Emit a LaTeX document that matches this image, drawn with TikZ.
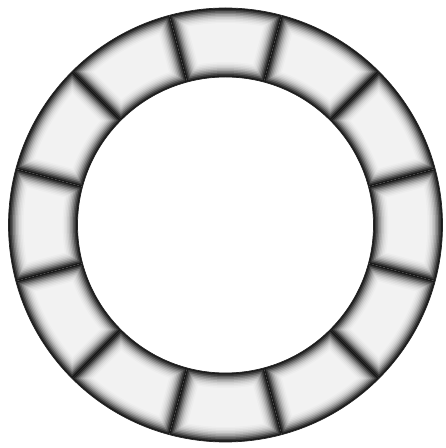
\documentclass[tikz,border=0pt]{standalone}
\usepackage{tikz}

\begin{document}
\begin{tikzpicture}[scale=0.025,
  rim/.style={draw=black!85,line width=0.5pt}]
\useasboundingbox (0,0) rectangle (445,448);
\begin{scope}[shift={(225.5,223)}]
% twelve blocks, shaded from the edges inwards
\foreach \k in {0,...,11}{
  \foreach \d/\g in {0/90,1.5/78,3/64,4.5/50,6/38,7.5/28,9/20,10.5/14,12/10,13.5/7,15/5}{
    \pgfmathsetmacro\ri{148+\d}
    \pgfmathsetmacro\ro{217-\d}
    \pgfmathsetmacro\ai{30*\k-15+\d/\ri*57.3}
    \pgfmathsetmacro\bi{30*\k+15-\d/\ri*57.3}
    \pgfmathsetmacro\ao{30*\k-15+\d/\ro*57.3}
    \pgfmathsetmacro\bo{30*\k+15-\d/\ro*57.3}
    \fill[black!\g] (\ai:\ri) -- (\ao:\ro) arc[start angle=\ao,end angle=\bo,radius=\ro]
      -- (\bi:\ri) arc[start angle=\bi,end angle=\ai,radius=\ri] -- cycle;
  }
}
\draw[rim] (0,0) circle[radius=217];
\draw[rim] (0,0) circle[radius=148];
\end{scope}
\end{tikzpicture}
\end{document}
